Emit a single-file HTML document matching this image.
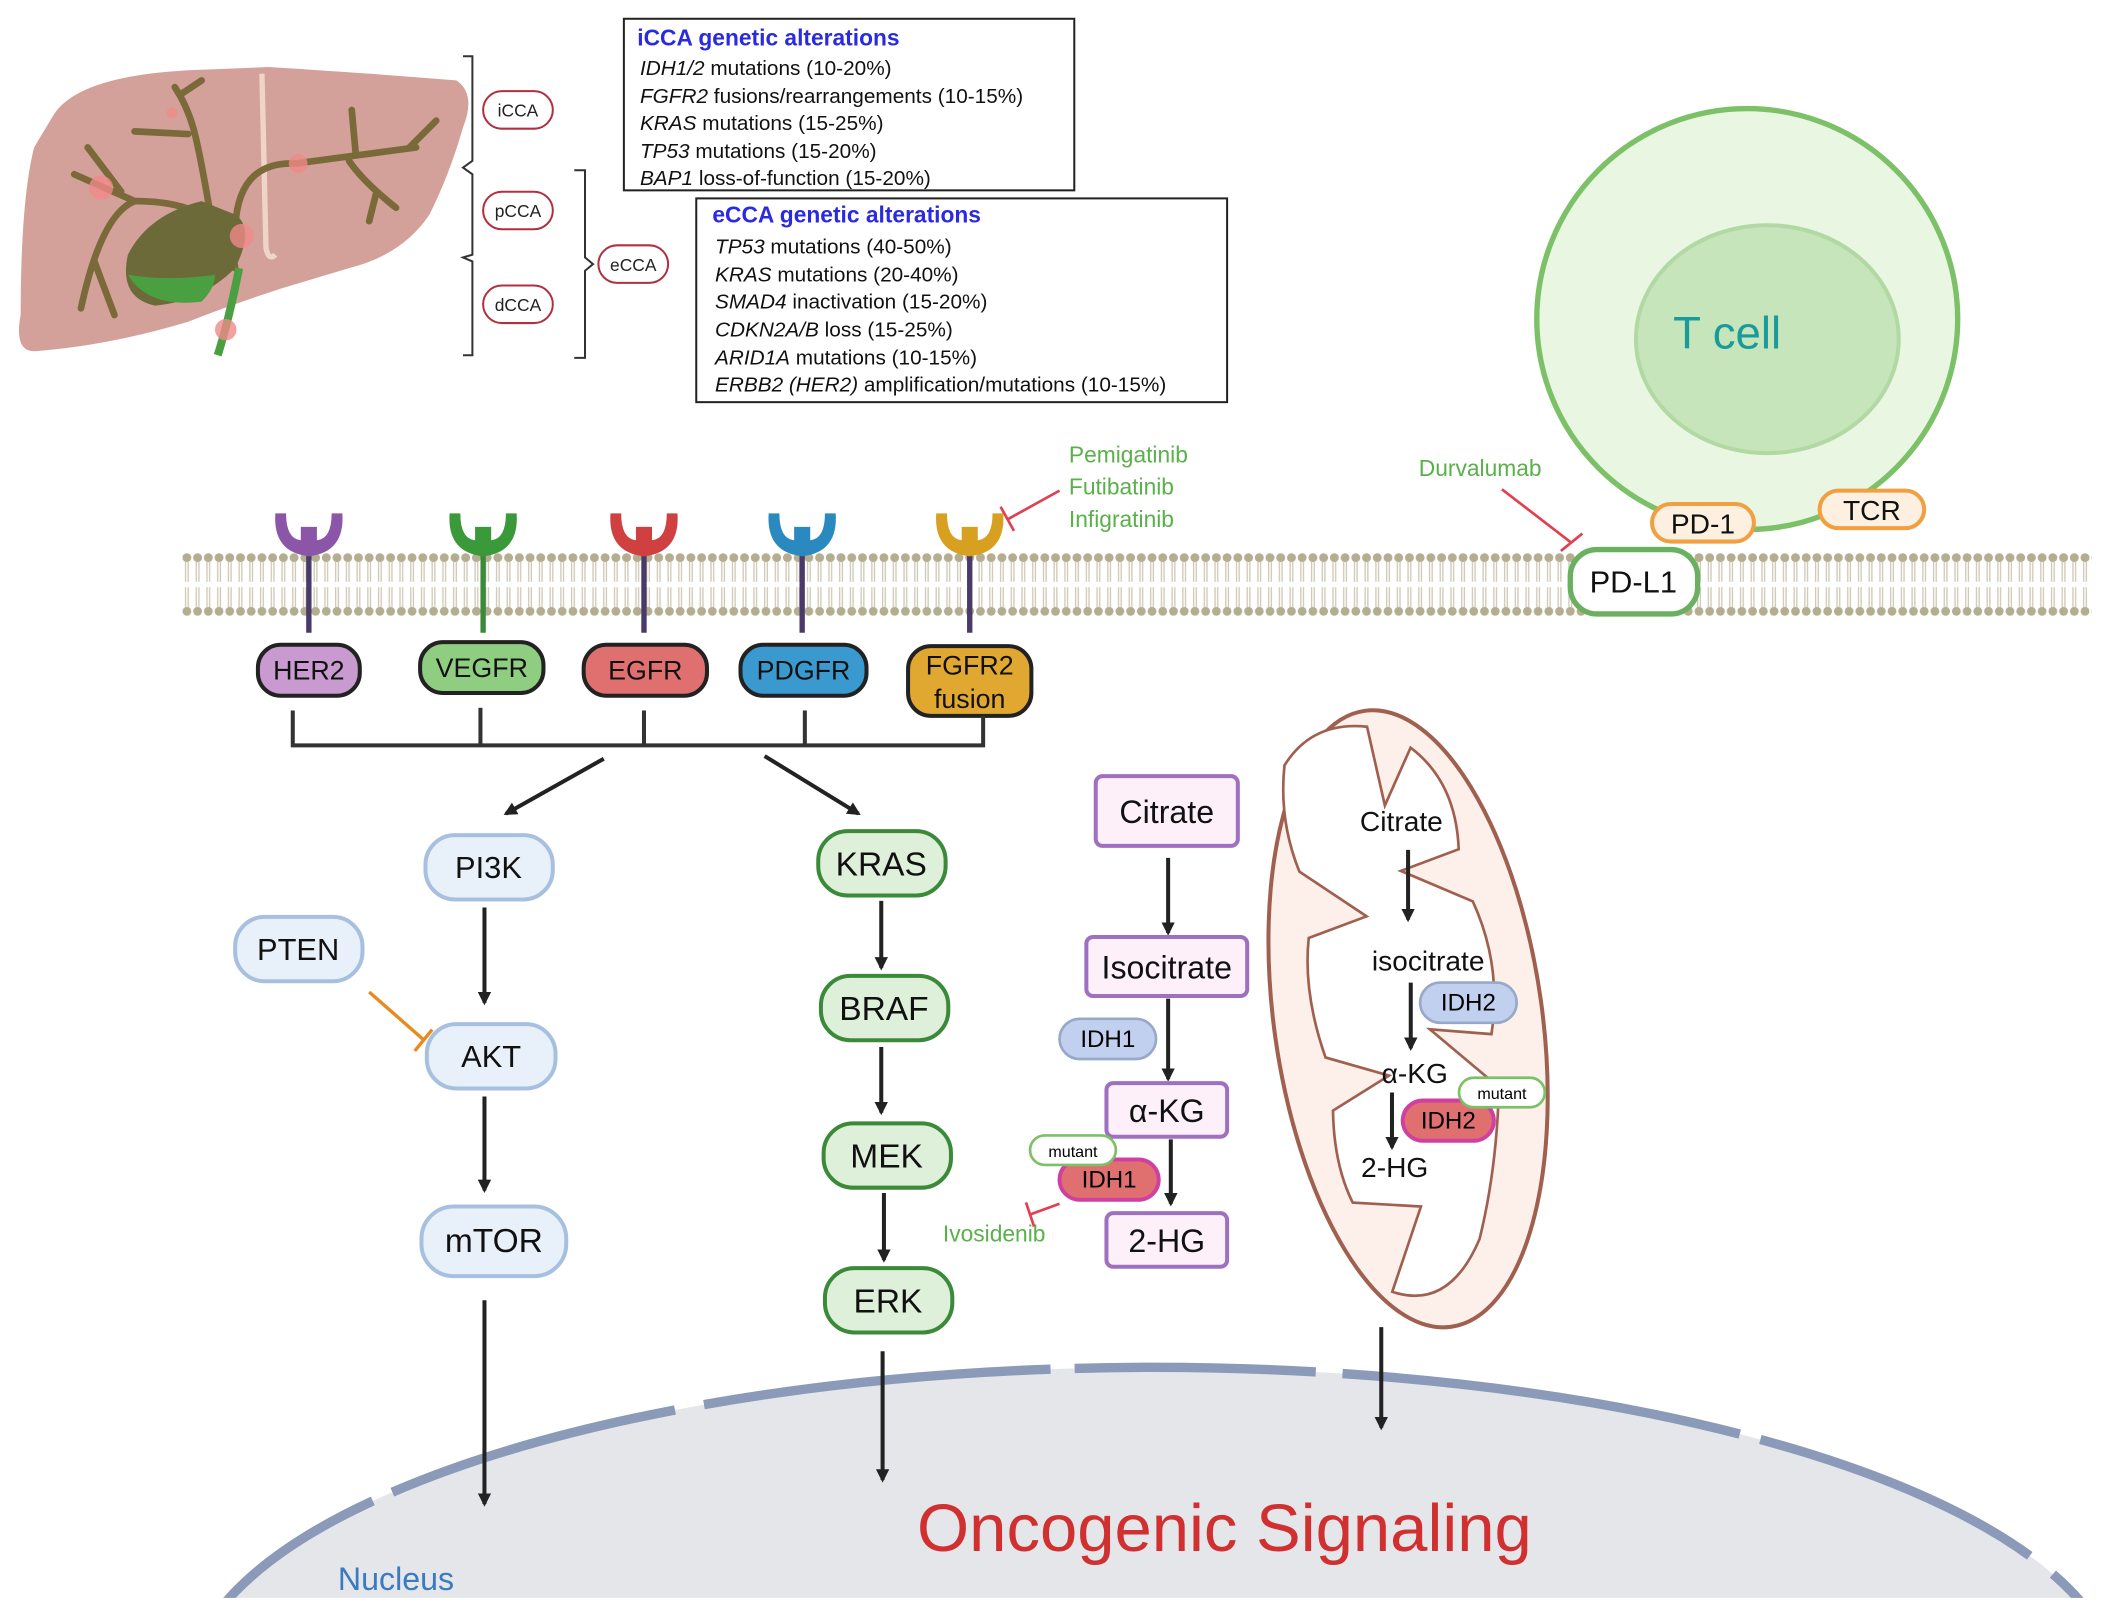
<!DOCTYPE html>
<html><head><meta charset="utf-8"><style>
html,body{margin:0;padding:0;background:#fff;overflow:hidden;width:2103px;height:1618px}
svg{display:block}
text{font-family:"Liberation Sans",sans-serif}
</style></head><body>
<svg width="2103" height="1618" viewBox="0 0 1568 1207" xmlns="http://www.w3.org/2000/svg">
<defs>
<marker id="ah" markerWidth="10" markerHeight="10" refX="8" refY="5" orient="auto" markerUnits="userSpaceOnUse"><path d="M0,0 L10,5 L0,10 z" fill="#222"/></marker>
<pattern id="mem" width="8" height="52" patternUnits="userSpaceOnUse" x="135" y="410">
<circle cx="4" cy="6" r="3.3" fill="#b5ad90"/><circle cx="4" cy="46" r="3.3" fill="#b5ad90"/>
<line x1="3" y1="9" x2="3" y2="24" stroke="#cfc9b6" stroke-width="1"/><line x1="5" y1="9" x2="5" y2="24" stroke="#cfc9b6" stroke-width="1"/>
<line x1="3" y1="28" x2="3" y2="43" stroke="#cfc9b6" stroke-width="1"/><line x1="5" y1="28" x2="5" y2="43" stroke="#cfc9b6" stroke-width="1"/>
</pattern>
<clipPath id="cl"><rect x="0" y="0" width="1568" height="1192"/></clipPath>
</defs>

<!-- nucleus (background) -->
<g clip-path="url(#cl)">
<ellipse cx="860" cy="1262" rx="720" ry="242" fill="#e4e6ea"/>
<ellipse cx="860" cy="1262" rx="720" ry="242" fill="none" stroke="#8a9ab8" stroke-width="7" stroke-dasharray="260 18 180 20 300 16 220 22"/>
</g>
<text x="913" y="1157" font-size="50" fill="#d03030" text-anchor="middle">Oncogenic Signaling</text>
<text x="295" y="1186" font-size="24" fill="#3a7ac0" text-anchor="middle">Nucleus</text>

<!-- Liver -->
<path d="M40,85 Q60,55 150,52 L200,50 Q280,55 340,60 Q355,70 345,95 Q335,130 320,160 Q300,190 260,200 L210,215 Q170,228 140,240 Q80,258 25,262 Q10,262 15,235 Q15,150 25,110 Z" fill="#d4a09a"/>
<path d="M195,55 L198,185 Q200,195 205,190" stroke="#eed5c8" stroke-width="4" fill="none"/>
<g stroke="#7a6a3a" stroke-width="5" fill="none" stroke-linecap="round">
<path d="M175,200 Q170,150 100,150 Q75,160 60,230"/>
<path d="M70,195 L85,235"/><path d="M100,150 L55,130"/><path d="M90,143 L65,110"/>
<path d="M160,180 Q150,120 145,100 Q140,80 130,65"/><path d="M140,100 L100,98"/><path d="M135,70 L150,60"/>
<path d="M175,175 Q175,120 220,122 L310,110"/><path d="M260,120 Q270,135 295,155"/><path d="M265,115 L262,82"/><path d="M305,110 L325,90"/><path d="M280,145 L275,165"/>
</g>
<path d="M175,160 Q190,170 175,200 Q150,225 115,228 Q88,222 95,190 Q110,160 150,150 Z" fill="#6b6a38"/>
<path d="M95,205 Q110,230 150,225 Q160,215 160,205 Q125,210 95,205Z" fill="#4aa040"/>
<path d="M178,200 Q170,240 162,265" stroke="#4aa040" stroke-width="6" fill="none"/>
<g fill="#f08a88" opacity="0.8"><circle cx="75" cy="140" r="9"/><circle cx="222" cy="122" r="7"/><circle cx="180" cy="176" r="9"/><circle cx="168" cy="246" r="8"/><circle cx="128" cy="84" r="4"/></g>

<!-- brackets -->
<g stroke="#333" stroke-width="1.5" fill="none">
<path d="M345,42 L352,42 L352,120 L345,125 L352,130 L352,190 L345,192 L352,195 L352,265 L345,265"/>
<path d="M428,127 L436,127 L436,192 L442,197 L436,202 L436,267 L428,267"/>
</g>
<g fill="#fff" stroke="#b03040" stroke-width="1.5">
<rect x="360" y="68" width="52" height="28" rx="14"/><rect x="360" y="143" width="52" height="28" rx="14"/><rect x="360" y="213" width="52" height="28" rx="14"/><rect x="446" y="183" width="52" height="28" rx="14"/>
</g>
<g font-size="13" text-anchor="middle" fill="#222"><text x="386" y="87">iCCA</text><text x="386" y="162">pCCA</text><text x="386" y="232">dCCA</text><text x="472" y="202">eCCA</text></g>

<!-- boxes -->
<rect x="465" y="14" width="336" height="128" fill="#fff" stroke="#222" stroke-width="1.5"/>
<g font-size="15.5" fill="#111">
<text x="475" y="34" fill="#2a2ae0" font-weight="bold" font-size="17">iCCA genetic alterations</text>
<text x="477" y="56"><tspan font-style="italic">IDH1/2</tspan> mutations (10-20%)</text>
<text x="477" y="77"><tspan font-style="italic">FGFR2</tspan> fusions/rearrangements (10-15%)</text>
<text x="477" y="97"><tspan font-style="italic">KRAS</tspan> mutations (15-25%)</text>
<text x="477" y="118"><tspan font-style="italic">TP53</tspan> mutations (15-20%)</text>
<text x="477" y="138"><tspan font-style="italic">BAP1</tspan> loss-of-function (15-20%)</text>
</g>
<rect x="519" y="148" width="396" height="152" fill="#fff" stroke="#222" stroke-width="1.5"/>
<g font-size="15.5" fill="#111">
<text x="531" y="166" fill="#2a2ae0" font-weight="bold" font-size="17">eCCA genetic alterations</text>
<text x="533" y="189"><tspan font-style="italic">TP53</tspan> mutations (40-50%)</text>
<text x="533" y="210"><tspan font-style="italic">KRAS</tspan> mutations (20-40%)</text>
<text x="533" y="230"><tspan font-style="italic">SMAD4</tspan> inactivation (15-20%)</text>
<text x="533" y="251"><tspan font-style="italic">CDKN2A/B</tspan> loss (15-25%)</text>
<text x="533" y="272"><tspan font-style="italic">ARID1A</tspan> mutations (10-15%)</text>
<text x="533" y="292"><tspan font-style="italic">ERBB2 (HER2)</tspan> amplification/mutations (10-15%)</text>
</g>

<!-- T cell -->
<circle cx="1303" cy="238" r="157" fill="#e8f6e2" stroke="#7cc067" stroke-width="4"/>
<ellipse cx="1318" cy="253" rx="98" ry="85" fill="#c6e5ba" stroke="#b2d9a4" stroke-width="3"/>
<text x="1288" y="260" font-size="34" fill="#1a9a9a" text-anchor="middle">T cell</text>

<!-- membrane -->
<rect x="135" y="410" width="1425" height="52" fill="url(#mem)"/>

<!-- receptors -->
<g stroke-width="4" fill="none">
<line x1="230" y1="410" x2="230" y2="472" stroke="#4a3a6a"/><line x1="360" y1="410" x2="360" y2="472" stroke="#3a8a3a"/><line x1="480" y1="410" x2="480" y2="472" stroke="#4a3a6a"/><line x1="598" y1="410" x2="598" y2="472" stroke="#4a3a6a"/><line x1="723" y1="410" x2="723" y2="472" stroke="#4a3a6a"/>
</g>
<g>
<path d="M205,383 Q203,412 230,415 Q257,412 255,383 L247,383 Q247,402 236,403 L236,393 L224,393 L224,403 Q213,402 213,383Z" fill="#8b55a8"/>
<path d="M335,383 Q333,412 360,415 Q387,412 385,383 L377,383 Q377,402 366,403 L366,393 L354,393 L354,403 Q343,402 343,383Z" fill="#3a9a3a"/>
<path d="M455,383 Q453,412 480,415 Q507,412 505,383 L497,383 Q497,402 486,403 L486,393 L474,393 L474,403 Q463,402 463,383Z" fill="#d04040"/>
<path d="M573,383 Q571,412 598,415 Q625,412 623,383 L615,383 Q615,402 604,403 L604,393 L592,393 L592,403 Q581,402 581,383Z" fill="#2a8ac0"/>
<path d="M698,383 Q696,412 723,415 Q750,412 748,383 L740,383 Q740,402 729,403 L729,393 L717,393 L717,403 Q706,402 706,383Z" fill="#d8a020"/>
</g>
<g stroke="#222" stroke-width="3">
<rect x="192" y="481" width="76" height="38" rx="17" fill="#c89ad0"/>
<rect x="313" y="479" width="92" height="38" rx="17" fill="#8fce80"/>
<rect x="435" y="481" width="92" height="38" rx="17" fill="#e07070"/>
<rect x="552" y="481" width="94" height="38" rx="17" fill="#3a9ad0"/>
<rect x="677" y="482" width="92" height="52" rx="17" fill="#e0a830"/>
</g>
<g font-size="20" text-anchor="middle" fill="#111"><text x="230" y="507">HER2</text><text x="359" y="505">VEGFR</text><text x="481" y="507">EGFR</text><text x="599" y="507">PDGFR</text><text x="723" y="503">FGFR2</text><text x="723" y="528">fusion</text></g>
<g stroke="#333" stroke-width="3" fill="none"><path d="M218,530 L218,556 L733,556 L733,534"/><line x1="358" y1="528" x2="358" y2="556"/><line x1="480" y1="530" x2="480" y2="556"/><line x1="600" y1="530" x2="600" y2="556"/></g>

<!-- drug labels -->
<g font-size="17" fill="#5ab04a"><text x="797" y="345">Pemigatinib</text><text x="797" y="369">Futibatinib</text><text x="797" y="393">Infigratinib</text><text x="1058" y="355">Durvalumab</text><text x="703" y="926">Ivosidenib</text></g>
<g stroke="#e04050" stroke-width="2" fill="none"><line x1="790" y1="366" x2="752" y2="387"/><line x1="746" y1="378" x2="756" y2="396"/>
<line x1="1120" y1="365" x2="1172" y2="405"/><line x1="1164" y1="411" x2="1180" y2="398"/>
<line x1="790" y1="898" x2="768" y2="906"/><line x1="765" y1="897" x2="771" y2="915"/></g>

<!-- PD-1 TCR PD-L1 -->
<rect x="1232" y="376" width="76" height="28" rx="14" fill="#fdf0e0" stroke="#f0a040" stroke-width="3"/>
<rect x="1357" y="366" width="78" height="28" rx="14" fill="#fdf0e0" stroke="#f0a040" stroke-width="3"/>
<rect x="1171" y="410" width="95" height="48" rx="20" fill="#fff" stroke="#6ab060" stroke-width="4"/>
<g font-size="21" text-anchor="middle" fill="#111"><text x="1270" y="398">PD-1</text><text x="1396" y="388">TCR</text><text x="1218" y="442" font-size="23">PD-L1</text></g>

<!-- mitochondrion -->
<g transform="rotate(-8 1050 760)">
<ellipse cx="1050" cy="760" rx="100" ry="232" fill="#fdf0ea" stroke="#a06050" stroke-width="3"/>
<path d="M985,560 Q1010,530 1050,540 L1055,600 L1080,560 Q1110,590 1105,640 L1060,650 L1110,680 Q1125,730 1110,780 L1065,770 L1110,820 Q1100,880 1080,930 Q1050,980 1010,960 L1040,900 L990,890 Q980,860 985,820 L1030,800 L985,780 Q975,730 985,690 L1030,680 L985,640 Q975,600 985,560 Z" fill="#fff" stroke="#a06050" stroke-width="2"/>
</g>

<!-- arrows -->
<g stroke="#222" stroke-width="3" fill="none" marker-end="url(#ah)">
<line x1="450" y1="566" x2="377" y2="607"/><line x1="570" y1="564" x2="640" y2="607"/>
<line x1="361" y1="677" x2="361" y2="748"/><line x1="361" y1="818" x2="361" y2="888"/><line x1="361" y1="970" x2="361" y2="1122"/>
<line x1="657" y1="672" x2="657" y2="722"/><line x1="657" y1="781" x2="657" y2="830"/><line x1="659" y1="890" x2="659" y2="940"/><line x1="658" y1="1008" x2="658" y2="1104"/>
<line x1="871" y1="640" x2="871" y2="696"/><line x1="871" y1="745" x2="871" y2="805"/><line x1="873" y1="850" x2="873" y2="898"/>
<line x1="1030" y1="990" x2="1030" y2="1065"/>
</g>
<g stroke="#e88a20" stroke-width="2.5" fill="none"><line x1="275" y1="740" x2="316" y2="776"/><line x1="309" y1="784" x2="322" y2="768"/></g>

<!-- PI3K pathway -->
<g fill="#e8f0fa" stroke="#a8c0e0" stroke-width="3">
<rect x="317" y="623" width="95" height="48" rx="22"/><rect x="175" y="684" width="95" height="48" rx="22"/><rect x="318" y="764" width="96" height="48" rx="22"/><rect x="314" y="900" width="108" height="52" rx="24"/>
</g>
<g font-size="23" text-anchor="middle" fill="#111"><text x="364" y="655">PI3K</text><text x="222" y="716">PTEN</text><text x="366" y="796">AKT</text><text x="368" y="934" font-size="25">mTOR</text></g>

<!-- KRAS -->
<g fill="#dff0da" stroke="#3a8a3a" stroke-width="3">
<rect x="610" y="620" width="95" height="48" rx="22"/><rect x="612" y="728" width="95" height="48" rx="22"/><rect x="614" y="838" width="95" height="48" rx="22"/><rect x="615" y="946" width="95" height="48" rx="22"/>
</g>
<g font-size="25" text-anchor="middle" fill="#111"><text x="657" y="653">KRAS</text><text x="659" y="761">BRAF</text><text x="661" y="871">MEK</text><text x="662" y="979">ERK</text></g>

<!-- cytosolic metabolism -->
<g fill="#fdf0f8" stroke="#a070c0" stroke-width="3">
<rect x="817" y="579" width="106" height="52" rx="5"/><rect x="810" y="699" width="120" height="44" rx="5"/><rect x="825" y="808" width="90" height="40" rx="5"/><rect x="825" y="905" width="90" height="40" rx="5"/>
</g>
<g font-size="24" text-anchor="middle" fill="#111"><text x="870" y="614">Citrate</text><text x="870" y="730">Isocitrate</text><text x="870" y="837">α-KG</text><text x="870" y="934">2-HG</text></g>
<rect x="790" y="760" width="72" height="30" rx="15" fill="#c0d0ee" stroke="#98a8c8" stroke-width="2"/>
<text x="826" y="781" font-size="18" text-anchor="middle">IDH1</text>
<rect x="790" y="865" width="74" height="30" rx="15" fill="#e07070" stroke="#d040a0" stroke-width="3"/>
<text x="827" y="886" font-size="18" text-anchor="middle">IDH1</text>
<rect x="768" y="847" width="64" height="22" rx="11" fill="#fff" stroke="#7cc067" stroke-width="2"/>
<text x="800" y="863" font-size="12" text-anchor="middle">mutant</text>

<!-- mito labels -->
<g font-size="21" text-anchor="middle" fill="#111"><text x="1045" y="620">Citrate</text><text x="1065" y="724">isocitrate</text><text x="1055" y="808">α-KG</text><text x="1040" y="878">2-HG</text></g>
<g stroke="#222" stroke-width="3" fill="none" marker-end="url(#ah)"><line x1="1050" y1="634" x2="1050" y2="686"/><line x1="1052" y1="733" x2="1052" y2="782"/><line x1="1038" y1="815" x2="1038" y2="856"/></g>
<rect x="1059" y="733" width="72" height="30" rx="15" fill="#c0d0ee" stroke="#98a8c8" stroke-width="2"/>
<text x="1095" y="754" font-size="18" text-anchor="middle">IDH2</text>
<rect x="1046" y="821" width="68" height="30" rx="15" fill="#e07070" stroke="#d040a0" stroke-width="3"/>
<text x="1080" y="842" font-size="18" text-anchor="middle">IDH2</text>
<rect x="1088" y="804" width="64" height="22" rx="11" fill="#fff" stroke="#7cc067" stroke-width="2"/>
<text x="1120" y="820" font-size="12" text-anchor="middle">mutant</text>
</svg>
</body></html>
